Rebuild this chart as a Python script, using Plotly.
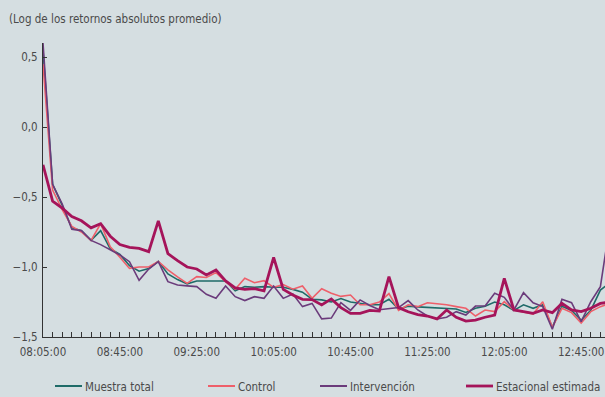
import pandas as pd
import plotly.graph_objects as go

# Five-minute intraday grid, 08:05 to 13:00
times = pd.date_range("2024-01-02 08:05:00", periods=60, freq="5min")

muestra_total = [
    0.55, -0.41, -0.56, -0.72, -0.74, -0.81, -0.74, -0.87, -0.91, -0.99,
    -1.03, -1.01, -0.96, -1.05, -1.09, -1.12, -1.10, -1.10, -1.10, -1.10,
    -1.17, -1.14, -1.145, -1.14, -1.145, -1.145, -1.16, -1.18, -1.23, -1.235,
    -1.25, -1.225, -1.25, -1.26, -1.27, -1.27, -1.23, -1.30, -1.28, -1.285,
    -1.29, -1.295, -1.295, -1.30, -1.325, -1.295, -1.28, -1.25, -1.27, -1.31,
    -1.27, -1.295, -1.27, -1.43, -1.28, -1.31, -1.38, -1.31, -1.165, -1.11,
]

control = [
    0.45, -0.45, -0.59, -0.71, -0.75, -0.81, -0.69, -0.855, -0.93, -1.01,
    -1.00, -1.00, -0.96, -1.02, -1.07, -1.117, -1.069, -1.075, -1.04, -1.105,
    -1.159, -1.08, -1.112, -1.098, -1.145, -1.125, -1.159, -1.136, -1.224, -1.155,
    -1.188, -1.21, -1.20, -1.27, -1.27, -1.25, -1.19, -1.31, -1.27, -1.283,
    -1.255, -1.26, -1.27, -1.283, -1.295, -1.35, -1.307, -1.319, -1.248, -1.307,
    -1.319, -1.336, -1.248, -1.431, -1.295, -1.326, -1.40, -1.319, -1.283, -1.26,
]

intervencion = [
    0.60, -0.41, -0.55, -0.73, -0.74, -0.81, -0.84, -0.88, -0.914, -0.962,
    -1.095, -1.015, -0.962, -1.105, -1.129, -1.135, -1.14, -1.195, -1.224, -1.136,
    -1.212, -1.24, -1.212, -1.224, -1.136, -1.224, -1.193, -1.283, -1.26, -1.37,
    -1.365, -1.255, -1.31, -1.235, -1.275, -1.305, -1.30, -1.29, -1.24, -1.307,
    -1.35, -1.371, -1.359, -1.319, -1.343, -1.279, -1.279, -1.188, -1.217, -1.307,
    -1.183, -1.255, -1.283, -1.445, -1.231, -1.255, -1.39, -1.248, -1.141, -0.69,
]

estacional = [
    -0.27, -0.53, -0.58, -0.64, -0.67, -0.72, -0.69, -0.78, -0.84, -0.86,
    -0.867, -0.89, -0.67, -0.905, -0.955, -1.00, -1.014, -1.057, -1.021, -1.10,
    -1.15, -1.16, -1.155, -1.17, -0.931, -1.16, -1.20, -1.231, -1.233, -1.271,
    -1.228, -1.29, -1.331, -1.331, -1.31, -1.315, -1.069, -1.29, -1.32, -1.34,
    -1.35, -1.371, -1.307, -1.359, -1.386, -1.379, -1.359, -1.343, -1.081, -1.307,
    -1.319, -1.331, -1.307, -1.326, -1.26, -1.307, -1.319, -1.295, -1.26, -1.25,
]

series_names = ["Muestra total", "Control", "Intervención", "Estacional estimada"]
series_values = [muestra_total, control, intervencion, estacional]
series_colors = ["#1f6b68", "#ee5f6a", "#6b3b7b", "#a5145a"]
series_widths = [1.6, 1.6, 1.6, 2.8]

y_ticks = [-1.5, -1.0, -0.5, 0.0, 0.5]

FONT = "DejaVu Sans Condensed, Liberation Sans Narrow, Arial Narrow, sans-serif"
FS = 11.5
TEXT = "#4a4a4a"
AXIS = "#333333"
BG = "#d5dee1"

W, H = 605, 397
L, R, T, B = 43, 0, 43, 60
plot_w = W - L - R
plot_h = H - T - B


def px_x(p):
    return (p - L) / plot_w


def px_y(p):
    return (H - B - p) / plot_h


fig = go.Figure()
for name, vals, col, w in zip(series_names, series_values, series_colors, series_widths):
    fig.add_trace(go.Scatter(
        x=times, y=vals, mode="lines", name=name,
        line=dict(color=col, width=w), showlegend=False,
    ))

# Legend drawn as short line samples with labels beneath the axis
legend_line_x = [55, 208, 320, 466]
for name, col, w, x0 in zip(series_names, series_colors, series_widths, legend_line_x):
    fig.add_shape(type="line", xref="paper", yref="paper",
                  x0=px_x(x0), x1=px_x(x0 + 27), y0=px_y(386), y1=px_y(386),
                  line=dict(color=col, width=max(w, 2)))
    fig.add_annotation(xref="paper", yref="paper", x=px_x(x0 + 28), y=px_y(387),
                       text=name, showarrow=False, xanchor="left", yanchor="middle",
                       font=dict(family=FONT, size=FS, color=TEXT))

fig.add_annotation(xref="paper", yref="paper", x=px_x(7), y=px_y(19),
                   text="(Log de los retornos absolutos promedio)", showarrow=False,
                   xanchor="left", yanchor="middle",
                   font=dict(family=FONT, size=FS, color=TEXT))

end_time = times[0] + pd.Timedelta(minutes=292.4)

fig.update_layout(
    width=W, height=H,
    margin=dict(l=L, r=R, t=T, b=B, pad=0),
    paper_bgcolor=BG, plot_bgcolor=BG,
    separators=",.",
    showlegend=False,
    font=dict(family=FONT, size=FS, color=TEXT),
    xaxis=dict(
        type="date", range=[times[0], end_time],
        tick0=times[0], dtick=40 * 60 * 1000, tickformat="%H:%M:%S",
        ticks="inside", ticklen=5, tickcolor=AXIS, tickwidth=1,
        minor=dict(dtick=5 * 60 * 1000, tick0=times[0], ticks="inside",
                   ticklen=5, tickcolor=AXIS, tickwidth=1, showgrid=False),
        showline=True, linecolor=AXIS, linewidth=1.2,
        showgrid=False, zeroline=False,
        ticklabeloverflow="allow", ticklabelstandoff=4,
        tickfont=dict(family=FONT, size=FS, color=TEXT),
    ),
    yaxis=dict(
        range=[-1.5, 0.6], tickvals=y_ticks, tickformat=".1f",
        ticks="inside", ticklen=4, tickcolor=AXIS,
        showline=True, linecolor=AXIS, linewidth=1.2,
        showgrid=False, zeroline=False, ticklabelstandoff=2,
        tickfont=dict(family=FONT, size=FS, color=TEXT),
    ),
)

fig.write_html("out.html")
